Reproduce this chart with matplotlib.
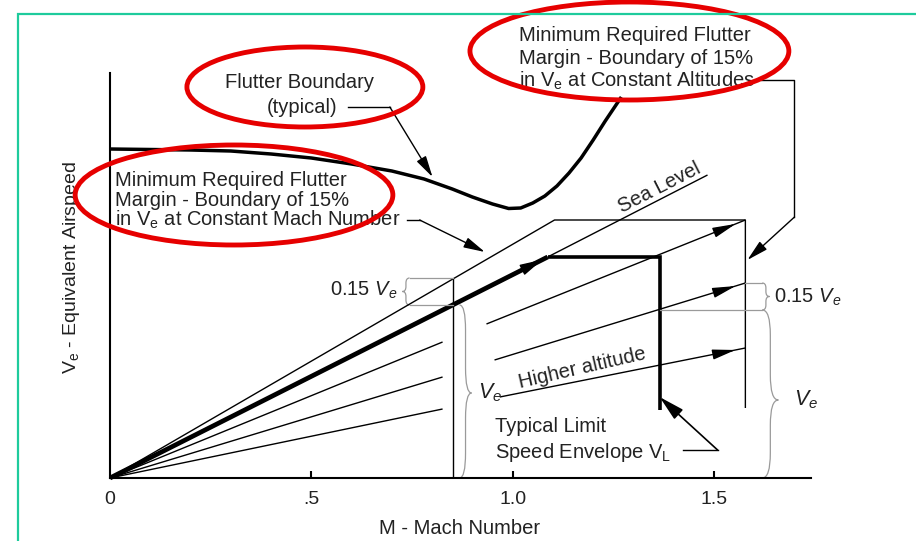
import numpy as np
import matplotlib
matplotlib.use("Agg")
import matplotlib.pyplot as plt
from matplotlib.patches import Ellipse, Rectangle
from matplotlib.path import Path
from matplotlib.patches import PathPatch

plt.rcParams['font.family'] = ['Liberation Sans', 'DejaVu Sans']
plt.rcParams['mathtext.fontset'] = 'custom'
plt.rcParams['mathtext.rm'] = 'Liberation Sans'
plt.rcParams['mathtext.it'] = 'Liberation Sans:italic'

# flutter boundary (typical), V_e against Mach
flutter_mach = [0, 0.10, 0.20, 0.30, 0.40, 0.50, 0.60, 0.70, 0.78, 0.85, 0.90,
                0.95, 0.99, 1.02, 1.05, 1.08, 1.11, 1.14, 1.17, 1.20, 1.23, 1.27]
flutter_ve = [3.29, 3.285, 3.28, 3.27, 3.24, 3.20, 3.14, 3.07, 2.99, 2.89, 2.81,
              2.74, 2.695, 2.70, 2.75, 2.82, 2.92, 3.05, 3.20, 3.38, 3.57, 3.81]

# sea level line: thick part then thin extension
sea_mach = [0, 1.087]
sea_ve = [0, 2.21]
sea_ext_mach = [1.087, 1.484]
sea_ext_ve = [2.21, 3.03]

# limit speed envelope V_L
env_mach = [1.087, 1.365, 1.365]
env_ve = [2.21, 2.21, 0.68]

# 15% margin at constant Mach / constant altitude
margin_mach = [0, 1.104, 1.578, 1.578]
margin_ve = [0, 2.58, 2.58, 0.70]
mach_line = [0.851, 0.851]
mach_line_ve = [0, 2.00]

# constant altitude lines (left part from origin, right part with arrows)
alt_left_end_mach = [0.826, 0.826, 0.826]
alt_left_end_ve = [1.36, 1.01, 0.69]
alt_right_start_mach = [0.935, 0.955, 0.968]
alt_right_start_ve = [1.54, 1.18, 0.81]
alt_right_end_mach = [1.578, 1.578, 1.578]
alt_right_end_ve = [2.58, 1.95, 1.30]

xticks = [0, 0.5, 1.0, 1.5]
xticklabels = ['0', '.5', '1.0', '1.5']

fig = plt.figure(figsize=(9.16, 5.41), dpi=100)
fig.patches.append(Rectangle((18 / 916, -0.1), 1.2, (541 - 14) / 541 + 0.1,
                             transform=fig.transFigure, fill=False,
                             edgecolor='#1ecb9c', linewidth=1.6))

ax = fig.add_axes([110 / 916, 63 / 541, 701 / 916, 405 / 541])
ax.set_xlim(0, 1.741)
ax.set_ylim(0, 4.05)
for s in ['top', 'right']:
  ax.spines[s].set_visible(False)
for s in ['left', 'bottom']:
  ax.spines[s].set_linewidth(1.5)
ax.set_yticks([])
ax.set_xticks(xticks)
ax.set_xticklabels(xticklabels, fontsize=14)
ax.tick_params(axis='x', direction='in', length=5, width=1.5, pad=9,
               labelcolor='#222222')
ax.xaxis.get_major_ticks()[0].tick1line.set_visible(False)

ax.set_xlabel("M - Mach Number", fontsize=14.5, color='#222222')
ax.xaxis.set_label_coords(0.498, -0.102)
ax.set_ylabel(r"$\mathrm{V_e}$ - Equivalent Airspeed", fontsize=14,
              color='#222222')
ax.yaxis.set_label_coords(-0.040, 0.52)

k = dict(color='black', solid_capstyle='butt', clip_on=False)

ax.plot(flutter_mach, flutter_ve, linewidth=2.5, solid_joinstyle='round', **k)
ax.plot(sea_mach, sea_ve, linewidth=3.4, **k)
ax.plot(sea_ext_mach, sea_ext_ve, linewidth=1.0, **k)
ax.plot(env_mach, env_ve, linewidth=2.6, solid_joinstyle='miter', **k)
ax.plot(margin_mach, margin_ve, linewidth=1.0, **k)
ax.plot(mach_line, mach_line_ve, linewidth=1.0, **k)

for i in range(3):
  ax.plot([0, alt_left_end_mach[i]], [0, alt_left_end_ve[i]], linewidth=1.0, **k)
  ax.plot([alt_right_start_mach[i], alt_right_end_mach[i]],
          [alt_right_start_ve[i], alt_right_end_ve[i]], linewidth=1.0, **k)
  # arrowhead just short of the margin line
  xs = [alt_right_start_mach[i], alt_right_end_mach[i]]
  ys = [alt_right_start_ve[i], alt_right_end_ve[i]]
  tip = (1.560, np.interp(1.560, xs, ys))
  tail = (1.50, np.interp(1.50, xs, ys))
  ax.annotate('', xy=tip, xytext=tail,
              arrowprops=dict(arrowstyle='-|>,head_length=1.0,head_width=0.22',
                              color='black', lw=1.0, mutation_scale=14))

ax.annotate('', xy=(1.080, 2.196), xytext=(1.02, 2.074),
            arrowprops=dict(arrowstyle='-|>,head_length=1.0,head_width=0.25',
                            color='black', lw=1.0, mutation_scale=14))

# gray guide lines for the 0.15 Ve brackets
gray = '#9a9a9a'
ax.plot([0.744, 0.851], [2.00, 2.00], color=gray, linewidth=0.9)
ax.plot([0.744, 0.851], [1.73, 1.73], color=gray, linewidth=0.9)
ax.plot([1.578, 1.620], [1.95, 1.95], color=gray, linewidth=0.9)
ax.plot([1.365, 1.620], [1.68, 1.68], color=gray, linewidth=0.9)


def brace(x, y0, y1, ym, w, r):
  h = w / 2.0
  verts = [(x, y1), (x + h, y1), (x + h, y1 - r),
           (x + h, ym + r), (x + h, ym), (x + w, ym),
           (x + h, ym), (x + h, ym - r),
           (x + h, y0 + r), (x + h, y0), (x, y0)]
  codes = [Path.MOVETO, Path.CURVE3, Path.CURVE3,
           Path.LINETO, Path.CURVE3, Path.CURVE3,
           Path.CURVE3, Path.CURVE3,
           Path.LINETO, Path.CURVE3, Path.CURVE3]
  ax.add_patch(PathPatch(Path(verts, codes), fill=False, edgecolor=gray,
                         linewidth=0.9, clip_on=False))


brace(0.744, 1.73, 2.00, 1.865, -0.018, 0.05)
brace(0.868, 0.0, 1.73, 0.85, 0.030, 0.25)
brace(1.620, 1.68, 1.95, 1.815, 0.018, 0.05)
brace(1.620, 0.0, 1.68, 0.78, 0.040, 0.25)

# leaders
arrow = dict(arrowstyle='-|>,head_length=1.0,head_width=0.25', color='black',
             lw=1.0, mutation_scale=13, shrinkA=0, shrinkB=0)
ax.plot([0.591, 0.695], [3.71, 3.71], color='black', linewidth=1.0, clip_on=False)
ax.annotate('', xy=(0.801, 3.01), xytext=(0.695, 3.71), arrowprops=arrow,
            annotation_clip=False)
ax.plot([0.737, 0.769], [2.58, 2.58], color='black', linewidth=1.0)
ax.annotate('', xy=(0.931, 2.26), xytext=(0.769, 2.58), arrowprops=arrow)
ax.plot([1.618, 1.700, 1.700], [3.98, 3.98, 2.61], color='black',
        linewidth=1.0, clip_on=False)
ax.annotate('', xy=(1.583, 2.18), xytext=(1.700, 2.61), arrowprops=arrow)
ax.plot([1.422, 1.509], [0.28, 0.28], color='black', linewidth=1.0)
ax.annotate('', xy=(1.365, 0.81), xytext=(1.509, 0.28),
            arrowprops=dict(arrowstyle='-|>,head_length=1.2,head_width=0.3',
                            color='black', lw=1.2, mutation_scale=13,
                            shrinkA=0, shrinkB=0))

# texts
fs = 14.5
tc = '#222222'
ax.text(0.471, 3.95, "Flutter Boundary", ha='center', va='center', fontsize=fs,
        color=tc, clip_on=False)
ax.text(0.476, 3.70, "(typical)", ha='center', va='center', fontsize=fs,
        color=tc, clip_on=False)

ll = ["Minimum Required Flutter", "Margin - Boundary of 15%",
      r"in $\mathrm{V_e}$ at Constant Mach Number"]
for i, t in enumerate(ll):
  ax.text(0.012, 2.97 - 0.195 * i, t, ha='left', va='center', fontsize=fs,
          color=tc, clip_on=False)

tr = ["Minimum Required Flutter", "Margin - Boundary of 15%",
      r"in $\mathrm{V_e}$ at Constant Altitudes"]
for i, t in enumerate(tr):
  ax.text(1.017, 4.42 - 0.225 * i, t, ha='left', va='center', fontsize=fs,
          color=tc, clip_on=False)

ax.text(1.365, 2.90, "Sea Level", ha='center', va='center', fontsize=fs,
        rotation=27, color=tc)
ax.text(1.174, 1.10, "Higher altitude", ha='center', va='center', fontsize=fs,
        rotation=13, color=tc)
ax.text(0.955, 0.51, "Typical Limit", ha='left', va='center', fontsize=fs, color=tc)
ax.text(0.955, 0.26, r"Speed Envelope $\mathrm{V_L}$", ha='left', va='center',
        fontsize=fs, color=tc)
ax.text(0.715, 1.88, r"0.15 $V_e$", ha='right', va='center', fontsize=fs, color=tc)
ax.text(0.913, 0.85, r"$V_e$", ha='left', va='center', fontsize=fs + 1, color=tc)
ax.text(1.650, 1.81, r"0.15 $V_e$", ha='left', va='center', fontsize=fs,
        color=tc, clip_on=False)
ax.text(1.700, 0.78, r"$V_e$", ha='left', va='center', fontsize=fs + 1,
        color=tc, clip_on=False)

# red highlight ellipses
red = '#e60000'
for c, w, h in [((0.484, 3.91), 0.586, 0.80),
                ((0.308, 2.83), 0.789, 1.00),
                ((1.290, 4.27), 0.792, 0.98)]:
  ax.add_patch(Ellipse(c, w, h, fill=False, edgecolor=red, linewidth=3.5,
                       clip_on=False, zorder=5))

fig.savefig("out.png", dpi=100)
